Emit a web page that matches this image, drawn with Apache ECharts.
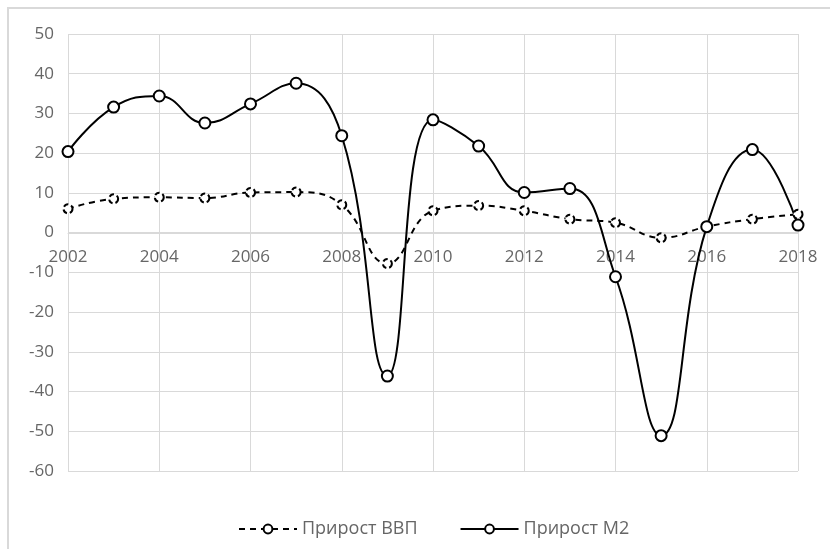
<!DOCTYPE html>
<html>
<head>
<meta charset="utf-8">
<script src="https://cdn.jsdelivr.net/npm/echarts@6/dist/echarts.min.js"></script>
<style>
  html, body { margin: 0; padding: 0; background: #fff; }
  #chart { width: 830px; height: 549px; }
</style>
</head>
<body>
<div id="chart"></div>
<script>
// годы и значения (%)
var years = [2002, 2003, 2004, 2005, 2006, 2007, 2008, 2009, 2010, 2011, 2012, 2013, 2014, 2015, 2016, 2017, 2018];
var gdpGrowth = [6.0, 8.5, 8.9, 8.7, 10.1, 10.2, 7.0, -7.8, 5.5, 6.8, 5.5, 3.4, 2.5, -1.3, 1.5, 3.4, 4.6];
var m2Growth = [20.4, 31.6, 34.4, 27.6, 32.4, 37.6, 24.4, -36.1, 28.4, 21.8, 10.1, 11.1, -11.1, -51.1, 1.5, 20.9, 1.9];
var seriesNames = ['Прирост ВВП', 'Прирост М2'];

function pairs(vals) {
  return years.map(function (y, i) { return [y, vals[i]]; });
}

var chart = echarts.init(document.getElementById('chart'));
var textColor = '#666666';
var gridColor = '#d9d9d9';

var option = {
  animation: false,
  textStyle: { fontFamily: 'Open Sans' },
  graphic: [{
    type: 'rect',
    shape: { x: 8, y: 8, width: 900, height: 600 },
    style: { fill: 'none', stroke: gridColor, lineWidth: 2 }
  }],
  grid: { left: 68, right: 32, top: 34, bottom: 78 },
  legend: {
    top: 515,
    left: 233,
    itemWidth: 58,
    itemHeight: 11,
    itemGap: 42,
    textStyle: { color: textColor, fontSize: 18 },
    data: seriesNames
  },
  xAxis: {
    type: 'value',
    min: 2002,
    max: 2018,
    interval: 2,
    // подписи годов идут по нулевой линии
    axisLine: { onZero: false, lineStyle: { color: gridColor } },
    offset: -238,
    axisTick: { show: false },
    axisLabel: { color: textColor, fontSize: 17, margin: 16, formatter: function (v) { return String(v); } },
    splitLine: { show: true, lineStyle: { color: gridColor } }
  },
  yAxis: {
    type: 'value',
    min: -60,
    max: 50,
    interval: 10,
    axisLine: { show: false },
    axisTick: { show: false },
    axisLabel: { color: textColor, fontSize: 17, margin: 14 },
    splitLine: { lineStyle: { color: gridColor } }
  },
  series: [
    {
      name: seriesNames[0],
      type: 'line',
      data: pairs(gdpGrowth),
      smooth: 0.45,
      symbol: 'emptyCircle',
      symbolSize: 9,
      lineStyle: { color: '#000', width: 2, type: [6, 5] },
      itemStyle: { color: '#000', borderColor: '#000', borderWidth: 2, borderType: [5, 3] }
    },
    {
      name: seriesNames[1],
      type: 'line',
      data: pairs(m2Growth),
      smooth: 0.45,
      symbol: 'emptyCircle',
      symbolSize: 11,
      lineStyle: { color: '#000', width: 2 },
      itemStyle: { color: '#000', borderColor: '#000', borderWidth: 2 },
      z: 3
    }
  ]
};
chart.setOption(option);
</script>
</body>
</html>
